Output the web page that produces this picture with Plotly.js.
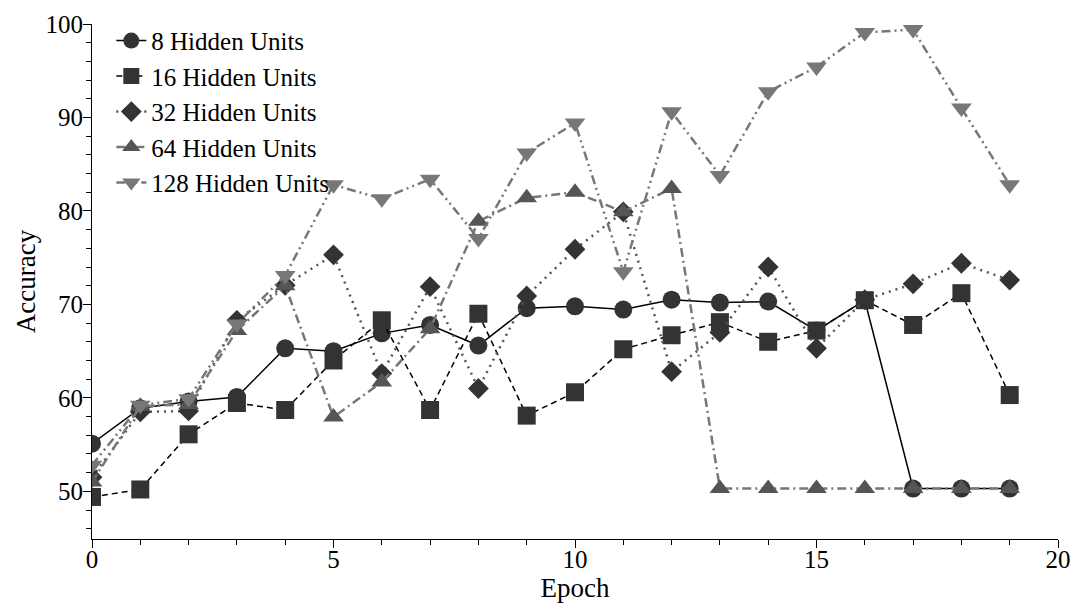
<!DOCTYPE html>
<html>
<head>
<meta charset="utf-8">
<script src="https://cdn.plot.ly/plotly-3.0.1.min.js"></script>
<style>html,body{margin:0;padding:0;background:#fff;}#chart{width:1073px;height:603px;}</style>
</head>
<body>
<div id="chart"></div>
<script>
const epochs = [0,1,2,3,4,5,6,7,8,9,10,11,12,13,14,15,16,17,18,19];
const units8   = [55.1,58.9,59.6,60.1,65.3,65.0,66.9,67.8,65.6,69.6,69.8,69.45,70.5,70.2,70.3,67.2,70.45,50.3,50.3,50.3];
const units16  = [49.4,50.2,56.1,59.45,58.7,64.0,68.3,58.7,69.0,58.1,60.6,65.2,66.7,68.1,66.0,67.2,70.45,67.8,71.2,60.3];
const units32  = [51.5,58.5,58.6,68.3,72.05,75.3,62.6,71.9,61.0,70.9,75.9,79.9,62.8,67.0,74.0,65.3,70.5,72.2,74.4,72.6];
const units64  = [51.0,59.1,59.3,67.2,72.0,57.95,61.7,67.4,78.9,81.4,82.0,79.9,82.4,50.3,50.3,50.3,50.3,50.3,50.3,50.3];
const units128 = [52.8,59.2,59.9,67.9,73.1,82.8,81.3,83.4,77.05,86.2,89.4,73.5,90.6,83.8,92.75,95.4,99.1,99.4,91.0,82.8];
const names = ['8 Hidden Units','16 Hidden Units','32 Hidden Units','64 Hidden Units','128 Hidden Units'];

const font = '"Liberation Serif", "Times New Roman", serif';
function tr(y, name, sym, mcol, lcol, dash, w, msize){
  return {x: epochs, y: y, name: name, type:'scatter', mode:'lines+markers',
    line:{color:lcol, dash:dash, width:w},
    marker:{symbol:sym, color:mcol, size:msize}};
}
const data = [
  tr(units8, names[0], 'circle', '#333333', '#000000', 'solid', 1.5, 18),
  tr(units16, names[1], 'square', '#333333', '#000000', '6px,4px', 1.5, 18),
  tr(units32, names[2], 'diamond', '#333333', '#555555', '2px,5px', 2.5, 16),
  tr(units64, names[3], 'triangle-up', '#555555', '#777777', '9px,4px,2px,4px', 2.5, 18),
  tr(units128, names[4], 'triangle-down', '#777777', '#777777', '9px,4px,2px,4px,2px,4px', 2.5, 18)
];
const layout = {
  width:1073, height:603,
  margin:{l:92, r:15, t:24, b:64},
  paper_bgcolor:'#fff', plot_bgcolor:'#fff',
  font:{family:font, size:26, color:'#000'},
  showlegend:true,
  legend:{x:0.02, y:1.012, xanchor:'left', yanchor:'top', bgcolor:'rgba(0,0,0,0)',
          font:{family:font, size:25, color:'#000'}, tracegroupgap:0, itemwidth:30},
  xaxis:{range:[0,20], showgrid:false, zeroline:false, showline:true, linecolor:'#000', linewidth:1,
         ticks:'outside', ticklen:8, tickcolor:'#000', dtick:5, tick0:0, ticklabelstandoff:-10,
         minor:{ticks:'outside', ticklen:5, dtick:1, tickcolor:'#000'},
         tickfont:{family:font, size:25},
         title:{text:'Epoch', font:{family:font, size:27}, standoff:0}},
  yaxis:{range:[44.9,100], showgrid:false, zeroline:false, showline:true, linecolor:'#000', linewidth:1,
         ticks:'outside', ticklen:8, tickcolor:'#000', dtick:10, tick0:50, ticklabelstandoff:-5,
         minor:{ticks:'outside', ticklen:5, dtick:2, tickcolor:'#000'},
         tickfont:{family:font, size:25},
         title:{text:'Accuracy', font:{family:font, size:27}, standoff:2}}
};
Plotly.newPlot('chart', data, layout, {displayModeBar:false, staticPlot:true});
</script>
</body>
</html>
